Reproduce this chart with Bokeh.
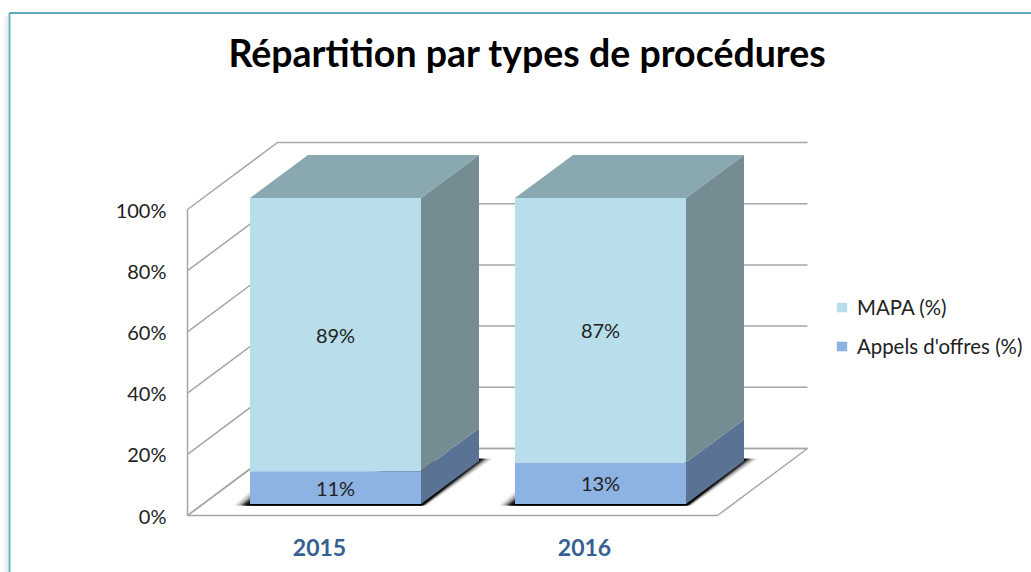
from bokeh.core.properties import value
from bokeh.embed import file_html
from bokeh.models import (ColumnDataSource, FixedTicker, Legend, LegendItem,
                          LinearAxis, Range1d)
from bokeh.plotting import figure
from bokeh.resources import INLINE

# ---- data
categories = ["2015", "2016"]
mapa_labels = ["89%", "87%"]
appels_labels = ["11%", "13%"]
appels_height = [10.7, 13.6]     # height of the lower block as drawn
mapa_height = [89.3, 86.4]       # height of the upper block as drawn
y_ticks = [0, 20, 40, 60, 80, 100]
y_tick_labels = ["0%", "20%", "40%", "60%", "80%", "100%"]
series_names = ["MAPA (%)", "Appels d'offres (%)"]

# ---- geometry of the fake 3D view (page pixels)
PX = 3.06                        # pixels per percent
Y0 = 515                         # page y of 0 % on the front plane
WALL_DX, WALL_DY = 90, 67        # depth of the box
BAR_DX, BAR_DY = 58, 43          # depth of a bar
BAR_LEFT = [249.5, 514.5]
BAR_W = 171
BAR_FLOOR = 11.5 / PX            # bars stand slightly behind the front edge
FRONT_X, FRONT_W = 187, 530
LABEL_SHIFT = 16

W, H = 1031, 572
TOP, BOTTOM = 0, H


def u(pixels):
    return pixels / PX


p = figure(width=W, height=H, output_backend="svg", toolbar_location=None,
           x_axis_type=None, y_axis_type=None, min_border=0,
           x_range=Range1d(0, W),
           y_range=Range1d(u(Y0 - BOTTOM), u(Y0 - TOP)))
p.outline_line_color = None
p.grid.visible = False
p.background_fill_color = "white"
p.border_fill_color = "white"

# panel frame: soft shadow, then teal rule
top_v = u(Y0 - 12.5)
bottom_v = u(Y0 - BOTTOM)
for x, a in ((2.5, .04), (3.5, .06), (4.5, .08), (5.5, .11), (6.5, .14), (7.5, .2)):
    p.line([x, x], [bottom_v, u(Y0 - 16)], line_color="#5f8fa0", line_alpha=a, line_width=1)
p.line([9, 9], [bottom_v, top_v], line_color="#6fb3c6", line_width=2)
p.line([9, W], [top_v, top_v], line_color="#2b8ba3", line_width=1.4)

GRID = "#a6a6a6"
# floor
p.patch([FRONT_X, FRONT_X + FRONT_W, FRONT_X + FRONT_W + WALL_DX, FRONT_X + WALL_DX],
        [0, 0, u(WALL_DY), u(WALL_DY)], fill_color="white",
        line_color=GRID, line_width=1.5)

# side and back wall rules
xs, ys = [], []
for t in y_ticks:
    back = t + u(WALL_DY)
    xs.append([FRONT_X, FRONT_X + WALL_DX, FRONT_X + WALL_DX + FRONT_W])
    ys.append([t, back, back])
p.multi_line(xs, ys, line_color=GRID, line_width=1.5)

# blurred shadows under the bars
for spread, alpha in ((14, .1), (11, .2), (8, .35), (6, .5), (4, .7), (2, .85), (0, 1)):
    sx, sy = [], []
    for x0 in BAR_LEFT:
        base = BAR_FLOOR - u(1.5)
        x1 = x0 + BAR_W
        sx.append([x0 - 2 - spread, x1 + spread * .4, x1 + BAR_DX + spread, x1, x0])
        sy.append([base, base, base + u(BAR_DY + 4), base + u(BAR_DY), base + u(spread)])
    p.patches(sx, sy, fill_color="black", fill_alpha=alpha, line_color=None)

# the bars: one front, side and (for the upper block) top face per block
front = {"appels": ([], []), "mapa": ([], [])}
side = {"appels": ([], []), "mapa": ([], [])}
top_x, top_y = [], []
centres = {"appels": [], "mapa": []}
for x0, a, m in zip(BAR_LEFT, appels_height, mapa_height):
    for key, lo, hi in (("appels", 0, a), ("mapa", a, a + m)):
        lo, hi = lo + BAR_FLOOR, hi + BAR_FLOOR
        x1 = x0 + BAR_W
        front[key][0].append([x0, x1, x1, x0])
        front[key][1].append([lo, lo, hi, hi])
        side[key][0].append([x1, x1 + BAR_DX, x1 + BAR_DX, x1])
        side[key][1].append([lo, lo + u(BAR_DY), hi + u(BAR_DY), hi])
        centres[key].append((lo + hi) / 2)
    top_x.append([x0, x1, x1 + BAR_DX, x0 + BAR_DX])
    top_y.append([hi, hi, hi + u(BAR_DY), hi + u(BAR_DY)])

p.patches(*side["appels"], fill_color="#5a7394", line_color=None)
p.patches(*side["mapa"], fill_color="#758c93", line_color=None)
p.patches(top_x, top_y, fill_color="#8aa8b0", line_color=None)
r_appels = p.patches(*front["appels"], fill_color="#8db3e2", line_color=None)
r_mapa = p.patches(*front["mapa"], fill_color="#b7deea", line_color=None)

# data labels
centre_x = [x0 + BAR_W / 2 for x0 in BAR_LEFT]
labels = ColumnDataSource(dict(x=centre_x * 2,
                               y=centres["mapa"] + centres["appels"],
                               t=mapa_labels + appels_labels))
p.text("x", "y", text="t", source=labels, text_align="center",
       text_baseline="middle", text_font=value("Lato"),
       text_font_size="20px", text_color="#222222")

# title
p.text([527], [u(Y0 - 52)], text=["Répartition par types de procédures"],
       text_align="center", text_baseline="middle", text_font=value("Lato"),
       text_font_style="bold", text_font_size="37.5px", text_color="black")

# value axis
yaxis = LinearAxis(fixed_location=FRONT_X, ticker=FixedTicker(ticks=y_ticks),
                   major_label_overrides=dict(zip(y_ticks, y_tick_labels)),
                   bounds=(0, 100), major_tick_line_color=None,
                   minor_tick_line_color=None, axis_line_color=GRID,
                   axis_line_width=1.5, major_label_standoff=15,
                   major_label_text_font="Lato",
                   major_label_text_font_size="20px",
                   major_label_text_color="#222222")
p.add_layout(yaxis, "left")

# category axis
x_ticks = [x - LABEL_SHIFT for x in centre_x]
xaxis = LinearAxis(fixed_location=0, ticker=FixedTicker(ticks=x_ticks),
                   major_label_overrides=dict(zip(x_ticks, categories)),
                   major_tick_line_color=None, minor_tick_line_color=None,
                   axis_line_color=None, major_label_standoff=17,
                   major_label_text_font="Lato",
                   major_label_text_font_style="bold",
                   major_label_text_font_size="23px",
                   major_label_text_color="#366092")
p.add_layout(xaxis, "below")

# legend
legend = Legend(items=[LegendItem(label=series_names[0], renderers=[r_mapa]),
                       LegendItem(label=series_names[1], renderers=[r_appels])],
                location=(835, 214), orientation="vertical",
                background_fill_alpha=0, border_line_color=None,
                glyph_width=13, glyph_height=12, label_standoff=9,
                spacing=15, margin=0, padding=8,
                label_text_font="Lato", label_text_font_size="20.4px",
                label_text_color="#222222")
p.add_layout(legend, "center")

open("out.html", "w").write(file_html(p, INLINE))
